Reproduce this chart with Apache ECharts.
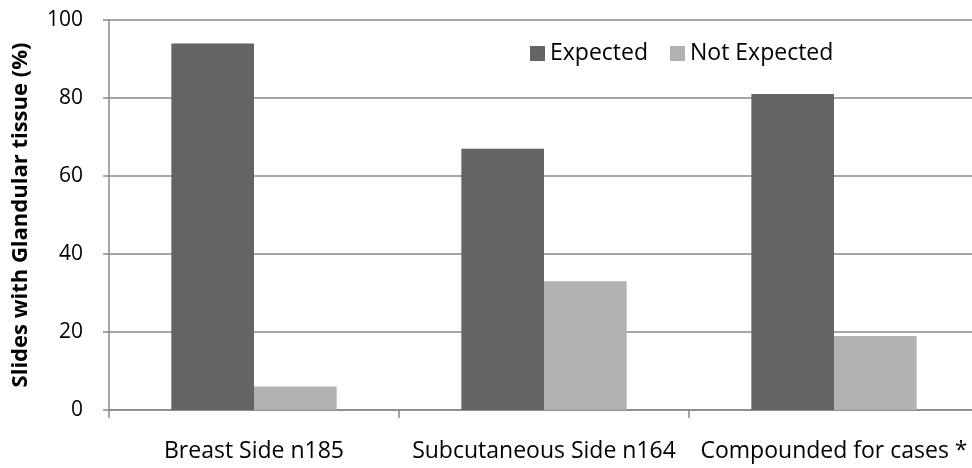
<!DOCTYPE html>
<html><head><meta charset="utf-8">
<script src="https://cdn.jsdelivr.net/npm/echarts@6/dist/echarts.min.js"></script>
<style>html,body{margin:0;padding:0;background:#fff;overflow:hidden;width:972px;height:468px}#c{width:980px;height:468px}</style>
</head><body><div id="c"></div>
<script>
const categories = ['Breast Side n185', 'Subcutaneous Side n164', 'Compounded for cases *'];
const expected = [94, 67, 81];
const notExpected = [6, 33, 19];
const yTicks = [0, 20, 40, 60, 80, 100];

const font = '"Open Sans", "Liberation Sans", sans-serif';
const chart = echarts.init(document.getElementById('c'));
chart.setOption({
  animation: false,
  grid: { left: 109, right: 1, top: 20, bottom: 58 },
  legend: {
    top: 37, left: 525, itemWidth: 15, itemHeight: 15, itemGap: 22,
    icon: 'rect',
    textStyle: { fontFamily: font, fontSize: 23, color: '#000' },
    data: ['Expected', 'Not Expected']
  },
  xAxis: {
    type: 'category', data: categories,
    axisLine: { lineStyle: { color: '#888888', width: 1.5 } },
    axisTick: { show: true, length: 8, lineStyle: { color: '#888888', width: 1.5 } },
    axisLabel: { fontFamily: font, fontSize: 23, color: '#000', margin: 30, interval: 0, hideOverlap: false }
  },
  yAxis: {
    type: 'value', min: yTicks[0], max: yTicks[yTicks.length - 1], interval: 20,
    name: 'Slides with Glandular tissue (%)', nameLocation: 'middle', nameGap: 77,
    nameTextStyle: { fontFamily: font, fontSize: 22, fontWeight: 'bold', color: '#000' },
    axisLine: { show: true, lineStyle: { color: '#888888', width: 1.5 } },
    axisTick: { show: true, length: 6, inside: false, lineStyle: { color: '#888888', width: 1.5 } },
    splitLine: { lineStyle: { color: '#888888', width: 1.5 } },
    axisLabel: { fontFamily: font, fontSize: 21, color: '#000', margin: 26 }
  },
  series: [
    { name: 'Expected', type: 'bar', data: expected, barGap: '0%', barCategoryGap: '43%',
      itemStyle: { color: '#646464' } },
    { name: 'Not Expected', type: 'bar', data: notExpected,
      itemStyle: { color: '#b2b2b2' } }
  ]
});
</script></body></html>
